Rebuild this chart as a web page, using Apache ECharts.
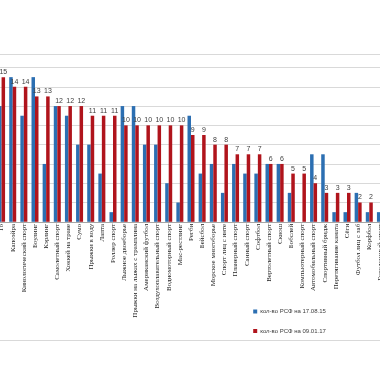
<!DOCTYPE html>
<html>
<head>
<meta charset="utf-8">
<script src="https://cdn.jsdelivr.net/npm/echarts@6/dist/echarts.min.js"></script>
<style>
html,body{margin:0;padding:0;background:#fff;overflow:hidden;width:380px;height:380px;}
#c{position:absolute;left:-3.7px;top:0;width:389.6px;height:380px;}
</style>
</head>
<body>
<div id="c"></div>
<script>
const categories = ["Го", "Капоэйра", "Кинологический спорт", "Боулинг", "Кэрлинг", "Самолетный спорт", "Хоккей на траве", "Сумо", "Прыжки в воду", "Лапта", "Роллер спорт", "Лыжное двоеборье", "Прыжки на лыжах с трамплина", "Американский футбол", "Воздухоплавательный спорт", "Водномоторный спорт", "Мас-рестлинг", "Регби", "Бейсбол", "Морское многоборье", "Спорт лиц с интеллектуальными нарушениями", "Планерный спорт", "Санный спорт", "Софтбол", "Вертолетный спорт", "Сквош", "Бобслей", "Компьютерный спорт", "Автомобильный спорт", "Спортивный бридж", "Перетягивание каната", "Сёги", "Футбол лиц с заболеванием ЦП", "Корфбол", "Городошный спорт"];
const seriesNames = ["кол-во РСФ на 17.08.15", "кол-во РСФ на 09.01.17"];
const values2015 = [12, 15, 11, 15, 6, 12, 11, 8, 8, 5, 1, 12, 12, 8, 8, 4, 2, 11, 5, 6, 3, 6, 5, 5, 6, 6, 3, 0, 7, 7, 1, 1, 3, 1, 1];
const values2017 = [15, 14, 14, 13, 13, 12, 12, 12, 11, 11, 11, 10, 10, 10, 10, 10, 10, 9, 9, 8, 8, 7, 7, 7, 6, 6, 5, 5, 4, 3, 3, 3, 2, 2, 2];
const yTicks = [0, 2, 4, 6, 8, 10, 12, 14, 16];

const OFF = 3.7;
const chart = echarts.init(document.getElementById('c'), null, {renderer: 'canvas'});
chart.setOption({
  animation: false,
  backgroundColor: '#ffffff',
  grid: {left: 0, right: 0, top: 67.5, bottom: 158.2, containLabel: false},
  legend: {
    orient: 'vertical', left: 253.5 + OFF, top: 308.5, itemWidth: 4, itemHeight: 4, itemGap: 13.5,
    icon: 'rect', padding: 0,
    textStyle: {fontSize: 6, color: '#404040', fontFamily: 'Liberation Sans', padding: [0, 0, 0, -2]},
    data: seriesNames
  },
  xAxis: {
    type: 'category', data: categories,
    axisLine: {show: true, lineStyle: {color: '#a6a6a6', width: 1}},
    axisTick: {show: false},
    axisLabel: {rotate: 90, fontSize: 7, color: '#262626', fontFamily: 'Liberation Serif', margin: 2, interval: 0,
      width: 95, overflow: 'truncate', ellipsis: ''}
  },
  yAxis: {
    type: 'value', min: yTicks[0], max: yTicks[yTicks.length - 1], interval: 2,
    axisLabel: {show: false}, axisLine: {show: false}, axisTick: {show: false},
    splitLine: {lineStyle: {color: '#d9d9d9', width: 1}}
  },
  series: [
    {name: seriesNames[0], type: 'bar', data: values2015, barWidth: 3.5, barGap: '0%',
      itemStyle: {color: '#2c6fb2'}},
    {name: seriesNames[1], type: 'bar', data: values2017, barWidth: 3.5,
      itemStyle: {color: '#b0141c'},
      label: {show: true, position: 'top', distance: 1.5, fontSize: 7, color: '#404040', fontFamily: 'Liberation Sans'}}
  ],
  graphic: [
    {type: 'line', shape: {x1: 0, y1: 54.5, x2: 390, y2: 54.5}, style: {stroke: '#d9d9d9', lineWidth: 1}},
    {type: 'line', shape: {x1: 0, y1: 340.5, x2: 390, y2: 340.5}, style: {stroke: '#d9d9d9', lineWidth: 1}}
  ]
});
</script>
</body>
</html>
